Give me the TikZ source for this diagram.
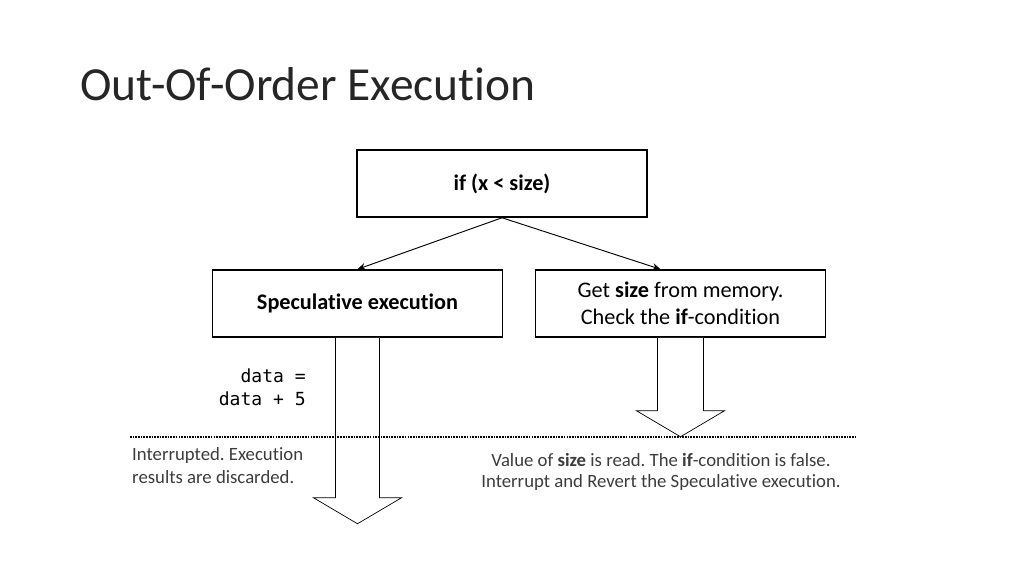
\documentclass[tikz,border=0pt]{standalone}
\usepackage{fontspec}
\setmainfont[Ligatures=NoCommon]{Carlito}
\setmonofont{DejaVu Sans Mono}
\usepackage{tikz}
\usetikzlibrary{arrows.meta,calc,positioning}
\definecolor{ooeink}{RGB}{0,0,0}
\definecolor{ooetitle}{RGB}{38,38,38}
\definecolor{ooetext}{RGB}{60,60,60}
\frenchspacing

\begin{document}
\begin{tikzpicture}[x=0.03cm, y=-0.03cm,
      stagebox/.style={draw=ooeink, line width=1.3pt, minimum width=290*0.03cm, minimum height=67*0.03cm, align=center, inner sep=2pt, font=\fontsize{19}{22}\selectfont},
      link/.style={-{Stealth[length=7pt, width=6pt]}, line width=0.8pt, draw=ooeink},
      fat/.style={draw=ooeink, fill=white, line width=0.6pt},
      note/.style={text=ooetext, font=\fontsize{16}{19.5}\selectfont, inner sep=0pt}
    ]
      \useasboundingbox (0,0) rectangle (1024,576);

      \node[anchor=base west, text=ooetitle, font=\fontsize{40.5}{48}\selectfont, inner sep=0pt] (title) at (80,100) {Out-Of-Order Execution};

      \node[stagebox] (cond) at (502,183.5) {\bfseries if (x < size)};
      \node[stagebox] (spec) at (357.5,303.5) {\bfseries Speculative execution};
      \node[stagebox] (fetch) at (680.5,303.5) {Get \textbf{size} from memory.\\[1pt] Check the \textbf{if}-condition};

      \draw[link] (cond.south) -- (spec.north);
      \draw[link] (cond.south) -- ($(fetch.north)+(-20,0)$);

      % hollow arrows below the boxes
      \draw[fat] ($(spec.south)+(-22,0)$) -- ++(0,160) -- ++(-22,0) -- ($(spec.south)+(0,186)$) coordinate (spectip)
        -- ($(spec.south)+(44,160)$) -- ++(-22,0) -- ($(spec.south)+(22,0)$);
      \draw[fat] ($(fetch.south)+(-23,0)$) -- ++(0,73) -- ++(-21,0) -- ($(fetch.south)+(0,99)$) coordinate (fetchtip)
        -- ($(fetch.south)+(44,73)$) -- ++(-21,0) -- ($(fetch.south)+(23,0)$);

      \coordinate (cutL) at (130,437);
      \coordinate (cutR) at (856,437);
      \draw[ooeink, line width=1.6pt, dash pattern=on 1.4pt off 0.9pt] (cutL) -- (cutR);

      \node[anchor=north east, align=right, font=\ttfamily\fontsize{15.4}{19.5}\selectfont, inner sep=0pt] (code) at (306,369) {data =\\data + 5};

      \node[note, anchor=north west, align=left] (lost) at (132,447) {Interrupted. Execution\\results are discarded.};
      \node[note, anchor=north, align=center, font=\fontsize{16}{18}\selectfont] (revert) at (661,453) {Value of \textbf{size} is read. The \textbf{if}-condition is false.\\Interrupt and Revert the Speculative execution.};
    \end{tikzpicture}
\end{document}
